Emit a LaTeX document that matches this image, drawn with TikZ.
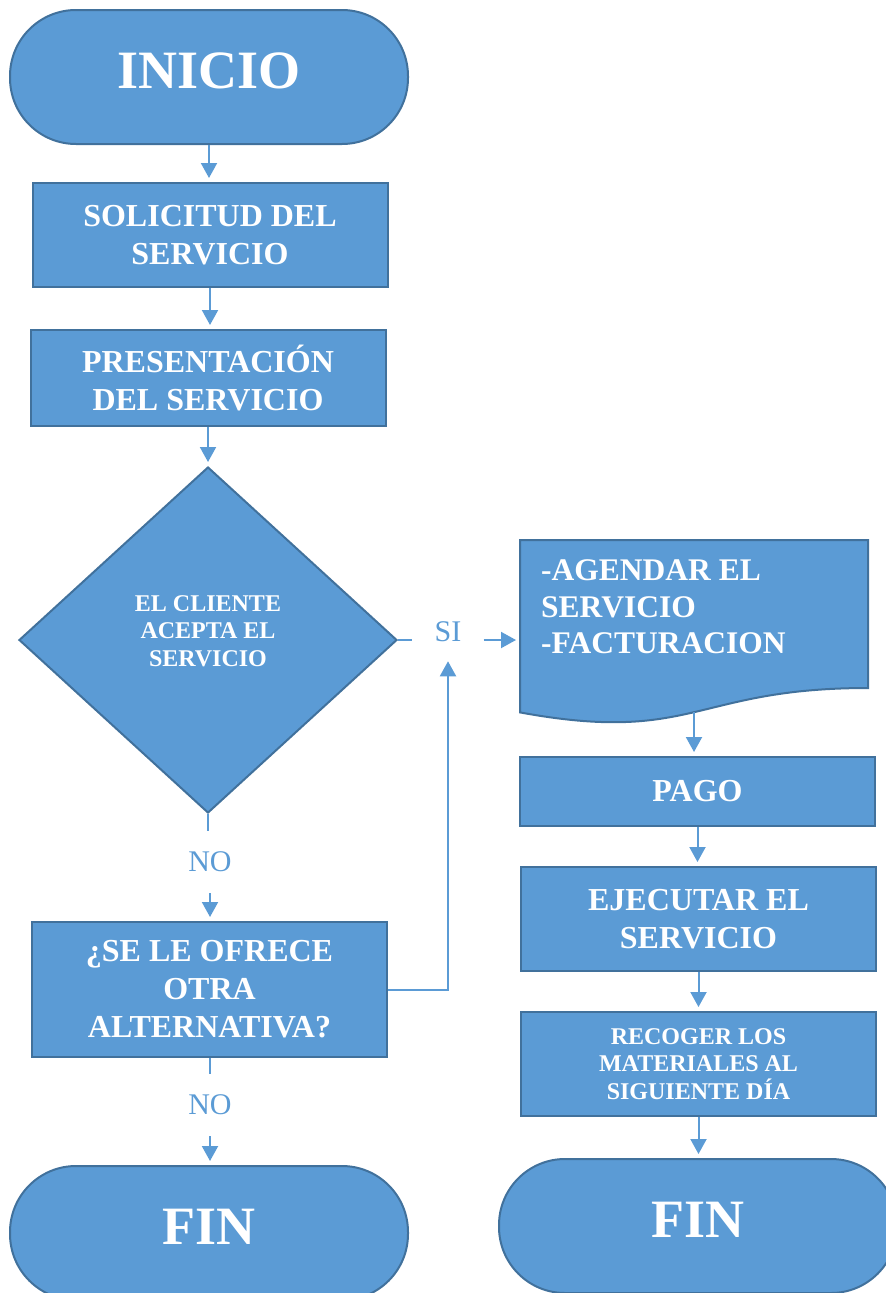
\documentclass[tikz,border=0pt]{standalone}
\usepackage{fontspec}
\setmainfont{Liberation Serif}
\usetikzlibrary{shapes.geometric,arrows.meta}
\definecolor{fillb}{HTML}{5B9BD5}
\definecolor{edgeb}{HTML}{41719C}
\begin{document}
\begin{tikzpicture}[x=1pt,y=-1pt,
  box/.style={draw=edgeb, fill=fillb, line width=2pt, text=white, font=\bfseries\fontsize{32}{38}\selectfont, align=center, inner sep=0pt},
  proc/.style={box, minimum width=355pt},
  term/.style={box, minimum width=398pt, minimum height=134pt, rounded corners=66pt, font=\bfseries\fontsize{54}{60}\selectfont, text depth=12pt},
  lab/.style={text=fillb, font=\fontsize{30}{36}\selectfont, inner xsep=22pt, inner ysep=21pt},
  arr/.style={draw=fillb, line width=2pt, -{Triangle[width=16pt,length=15pt]}, shorten >=4pt},
  ln/.style={draw=fillb, line width=2pt},
  small/.style={font=\bfseries\fontsize{24}{27.5}\selectfont}
]
\useasboundingbox (0,0) rectangle (886,1293);
\clip (0,0) rectangle (886,1293);

% left column
\node[term] (inicio) at (209,77) {INICIO};
\node[proc, minimum height=104pt] (sol) at (210,235) {SOLICITUD DEL\\SERVICIO};
\node[proc, minimum height=96pt] (pres) at (208,378) {PRESENTACIÓN\\DEL SERVICIO};
\node[box, shape=diamond, minimum width=378pt, minimum height=346pt] (dia) at (208,640) {};
\node[text=white, small, align=center] (diatext) at (208,631) {EL CLIENTE\\ACEPTA EL\\SERVICIO};
\node[lab] (no1) at (210,862) {NO};
\node[proc, minimum height=135pt] (alt) at (209.5,989.5) {¿SE LE OFRECE\\OTRA\\ALTERNATIVA?};
\node[lab] (no2) at (210,1105) {NO};
\node[term] (fin1) at (209,1233) {FIN};

% SI label
\node[lab, inner ysep=15pt] (si) at (448,632) {SI};

% document shape
\coordinate (docw) at (520,640);
\coordinate (docb) at (694,712);
\draw[draw=edgeb, fill=fillb, line width=2pt] (520,540) -- (868,540) -- (868,688)
  .. controls (694,688) and (694,744.4) .. (520,712.4) -- cycle;
\node[text=white, font=\bfseries\fontsize{31.5}{36.5}\selectfont, align=left, anchor=west, inner sep=0pt] (doc) at (541,607) {-AGENDAR EL\\SERVICIO\\-FACTURACION};

% right column
\node[proc, minimum height=69pt] (pago) at (697.5,791.5) {PAGO};
\node[proc, minimum height=104pt] (ejec) at (698.5,919) {EJECUTAR EL\\SERVICIO};
\node[proc, minimum height=104pt, small] (rec) at (698.5,1064) {RECOGER LOS\\MATERIALES AL\\SIGUIENTE DÍA};
\node[term] (fin2) at (698,1226) {FIN};

% connectors
\draw[arr] (inicio.south) -- (inicio.south |- sol.north);
\draw[arr] (sol.south) -- (sol.south |- pres.north);
\draw[arr] (pres.south) -- (pres.south |- dia.north);
\draw[ln] (dia.east) -- (dia.east -| si.west);
\draw[arr] (docw -| si.east) -- (docw);
\draw[ln] (dia.south) -- (dia.south |- no1.north);
\draw[arr] (no1.south) -- (no1.south |- alt.north);
\draw[ln] (alt.south) -- (alt.south |- no2.north);
\draw[arr] (no2.south) -- (no2.south |- fin1.north);
\draw[arr] (alt.east) -| (si.south);
\draw[arr] (docb) -- (docb |- pago.north);
\draw[arr] (pago.south) -- (pago.south |- ejec.north);
\draw[arr] (ejec.south) -- (ejec.south |- rec.north);
\draw[arr] (rec.south) -- (rec.south |- fin2.north);
\end{tikzpicture}
\end{document}
